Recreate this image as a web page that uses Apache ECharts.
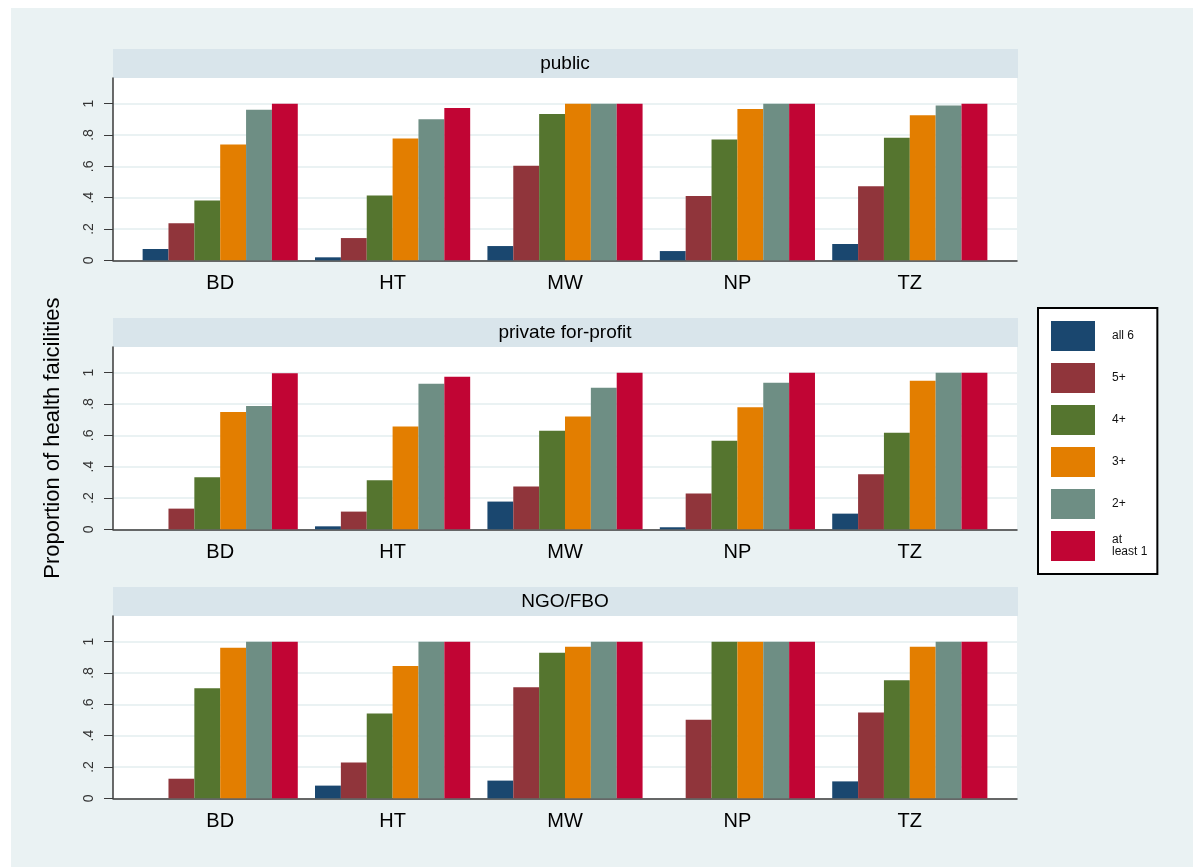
<!DOCTYPE html>
<html>
<head>
<meta charset="utf-8">
<script src="https://cdn.jsdelivr.net/npm/echarts@6/dist/echarts.min.js"></script>
<style>
  html, body { margin: 0; padding: 0; background: #fff; }
  #chart { width: 1193px; height: 867px; }
</style>
</head>
<body>
<div id="chart"></div>
<script>
// Countries on the x axis of every panel
const countries = ['BD', 'HT', 'MW', 'NP', 'TZ'];
// Facility ownership, one panel each
const sectors = ['public', 'private for-profit', 'NGO/FBO'];
// Number of items available (one bar series each)
const thresholds = ['all 6', '5+', '4+', '3+', '2+', 'at least 1'];
const yTicks = [0, 0.2, 0.4, 0.6, 0.8, 1];

// Proportions, one row per threshold, one column per country
const publicVals = [
  [0.072, 0.019, 0.091, 0.059, 0.104],
  [0.236, 0.142, 0.603, 0.410, 0.473],
  [0.382, 0.414, 0.934, 0.771, 0.783],
  [0.739, 0.778, 1.000, 0.966, 0.926],
  [0.962, 0.900, 1.000, 1.000, 0.989],
  [1.000, 0.972, 1.000, 1.000, 1.000]
];
const privateVals = [
  [0.000, 0.019, 0.177, 0.013, 0.100],
  [0.132, 0.113, 0.274, 0.228, 0.351],
  [0.333, 0.313, 0.630, 0.566, 0.617],
  [0.749, 0.657, 0.721, 0.779, 0.949],
  [0.788, 0.930, 0.904, 0.936, 1.000],
  [0.997, 0.974, 1.000, 1.000, 1.000]
];
const ngoVals = [
  [0.000, 0.081, 0.113, 0.000, 0.108],
  [0.125, 0.229, 0.709, 0.501, 0.548],
  [0.703, 0.541, 0.930, 1.000, 0.754],
  [0.961, 0.845, 0.968, 1.000, 0.968],
  [1.000, 1.000, 1.000, 1.000, 1.000],
  [1.000, 1.000, 1.000, 1.000, 1.000]
];

const panelVals = [publicVals, privateVals, ngoVals];
const colors = ['#1a476f', '#90353b', '#55752f', '#e37e00', '#6e8e84', '#c10534'];

const FONT = 'Liberation Sans, Arial, Helvetica, sans-serif';
const Y_MAX = 1.164;
const PANEL_STEP = 269;
const PLOT_LEFT = 113, PLOT_RIGHT = 1017;
const PLOT_TOP = 78, PLOT_H = 182.3;
const STRIP_TOP = 49, STRIP_H = 29;
const DATA_LEFT = 134, DATA_W = 862;

const grid = [], xAxis = [], yAxis = [], series = [], graphic = [];

// page background panel
graphic.push({
  type: 'rect', z: -10, silent: true,
  shape: { x: 11, y: 8, width: 1193 - 11, height: 867 - 8 },
  style: { fill: '#eaf2f3' }
});

sectors.forEach((sector, p) => {
  const top = PLOT_TOP + p * PANEL_STEP;

  // frame grid: white plot region, y axis, baseline
  grid.push({
    left: PLOT_LEFT, top: top, width: PLOT_RIGHT - PLOT_LEFT, height: PLOT_H,
    show: true, backgroundColor: '#ffffff', borderWidth: 0
  });
  // data grid: bar groups, narrower to leave outer gaps
  grid.push({
    left: DATA_LEFT, top: top, width: DATA_W, height: PLOT_H
  });

  const fi = 2 * p, di = 2 * p + 1;

  xAxis.push({
    gridIndex: fi, type: 'value', min: 0, max: 1,
    axisLine: { show: true, onZero: false, lineStyle: { color: '#3a3a3a', width: 1.5 } },
    axisTick: { show: false }, axisLabel: { show: false }, splitLine: { show: false }
  });
  xAxis.push({
    gridIndex: di, type: 'category', data: countries,
    axisLine: { show: false }, axisTick: { show: false },
    axisLabel: { color: '#000', fontFamily: FONT, fontSize: 20, margin: 13 }
  });

  yAxis.push({
    gridIndex: fi, type: 'value', min: 0, max: Y_MAX, interval: 0.2,
    name: p === 1 ? 'Proportion of health faicilities' : '',
    nameLocation: 'middle', nameGap: 49,
    nameTextStyle: { color: '#000', fontFamily: FONT, fontSize: 22 },
    axisLine: { show: true, lineStyle: { color: '#3a3a3a', width: 1.5 } },
    axisTick: { show: true, length: 9, customValues: yTicks, lineStyle: { color: '#3a3a3a', width: 1 } },
    axisLabel: {
      customValues: yTicks, rotate: 90, margin: 17,
      color: '#333', fontFamily: FONT, fontSize: 14,
      formatter: v => (v === 0 ? '0' : v >= 0.999 ? '1' : String(Math.round(v * 10) / 10).replace(/^0/, ''))
    },
    splitLine: { show: true, lineStyle: { color: '#eaf2f3', width: 2 } }
  });
  yAxis.push({
    gridIndex: di, type: 'value', min: 0, max: Y_MAX, show: false
  });

  panelVals[p].forEach((row, k) => {
    series.push({
      name: thresholds[k], type: 'bar',
      xAxisIndex: di, yAxisIndex: di,
      data: row,
      barGap: '0%', barCategoryGap: '10%',
      itemStyle: { color: colors[k] },
      emphasis: { disabled: true }
    });
  });

  // panel header strip
  graphic.push({
    type: 'rect', silent: true,
    shape: { x: PLOT_LEFT, y: STRIP_TOP + p * PANEL_STEP, width: PLOT_RIGHT - PLOT_LEFT + 1, height: STRIP_H },
    style: { fill: '#d9e5eb' }
  });
  graphic.push({
    type: 'text', silent: true,
    x: (PLOT_LEFT + PLOT_RIGHT) / 2, y: STRIP_TOP + p * PANEL_STEP + STRIP_H / 2,
    style: {
      text: sector, fill: '#000', font: '19px ' + FONT,
      textAlign: 'center', textVerticalAlign: 'middle'
    }
  });
});

const chart = echarts.init(document.getElementById('chart'), null, { renderer: 'canvas' });
chart.setOption({
  backgroundColor: '#ffffff',
  animation: false,
  grid, xAxis, yAxis, series, graphic,
  legend: {
    data: thresholds,
    orient: 'vertical',
    left: 1038, top: 308,
    icon: 'rect',
    itemWidth: 44, itemHeight: 30, itemGap: 12,
    padding: [13, 10, 13, 13],
    backgroundColor: '#ffffff',
    borderColor: '#000', borderWidth: 2,
    selectedMode: false,
    formatter: name => (name === 'at least 1' ? 'at\nleast 1' : name),
    textStyle: { color: '#111', fontFamily: FONT, fontSize: 12, lineHeight: 12, padding: [0, 0, 0, 12] }
  }
});
</script>
</body>
</html>
